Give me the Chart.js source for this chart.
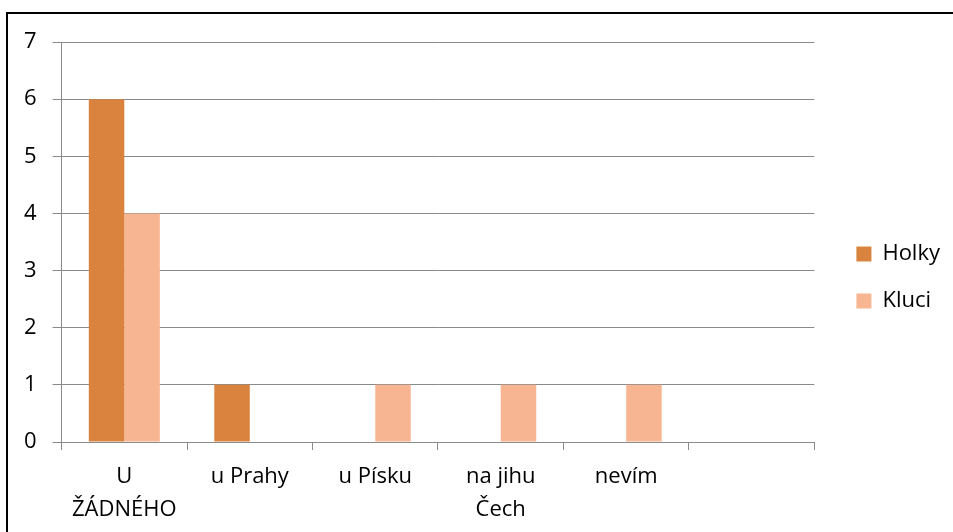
<!DOCTYPE html>
<html>
<head>
<meta charset="utf-8">
<script src="https://cdn.jsdelivr.net/npm/chart.js@4"></script>
<style>
  body { margin: 0; background: #fff; }
  #wrap { position: relative; width: 953px; height: 532px; overflow: hidden; }
  #ramecek { position: absolute; left: 6px; top: 12px; width: 1000px; height: 600px;
             border-top: 2px solid #000; border-left: 2px solid #000; }
  #graf { position: absolute; left: 0; top: 0; }
</style>
</head>
<body>
<div id="wrap">
  <div id="ramecek"></div>
  <canvas id="graf" width="953" height="532"></canvas>
</div>
<script>
// Data grafu
const kategorie = [["U", "ŽÁDNÉHO"], "u Prahy", "u Písku", ["na jihu", "Čech"], "nevím", ""];
const holky = [6, 1, 0, 0, 0, 0];
const kluci = [4, 0, 1, 1, 1, 0];
const osaY = [0, 1, 2, 3, 4, 5, 6, 7];

const barvaHolky = "#D9833E";
const barvaKluci = "#F8B592";
const seda = "#8A8A8A";
const pismo = "'Open Sans'";

// posun legendy na místo jako v originále (vpravo, svisle uprostřed)
const posunLegendy = {
  id: "posunLegendy",
  afterLayout(chart) {
    const l = chart.legend;
    l.left += 17; l.right += 17;
    l.top += 176; l.bottom += 176;
  }
};

new Chart(document.getElementById("graf"), {
  type: "bar",
  data: {
    labels: kategorie,
    datasets: [
      { label: "Holky", data: holky, backgroundColor: barvaHolky },
      { label: "Kluci", data: kluci, backgroundColor: barvaKluci }
    ]
  },
  options: {
    responsive: false,
    animation: false,
    layout: { padding: { left: 8, top: 42, right: 20, bottom: 6 } },
    categoryPercentage: 0.566,
    barPercentage: 1,
    plugins: {
      legend: {
        position: "right",
        align: "start",
        labels: {
          boxWidth: 15,
          boxHeight: 15,
          padding: 25,
          color: "#000",
          font: { family: pismo, size: 22 }
        }
      },
      tooltip: { enabled: false }
    },
    scales: {
      x: {
        grid: { display: true, drawOnChartArea: false, color: seda, tickLength: 8, offset: true },
        border: { color: seda, width: 1 },
        ticks: { color: "#000", padding: 10, maxRotation: 0, autoSkip: false,
                 font: { family: pismo, size: 22, lineHeight: 1.5 } },
        // chart.js počítá odsazení dvakrát
        afterFit(axis) { axis.height -= axis.options.ticks.padding; }
      },
      y: {
        min: 0,
        max: 7,
        afterBuildTicks(axis) { axis.ticks = osaY.map(v => ({ value: v })); },
        grid: { color: seda, tickLength: 9 },
        border: { color: seda, width: 1 },
        ticks: { color: "#000", padding: 16, font: { family: pismo, size: 22 } }
      }
    }
  },
  plugins: [posunLegendy]
});
</script>
</body>
</html>
